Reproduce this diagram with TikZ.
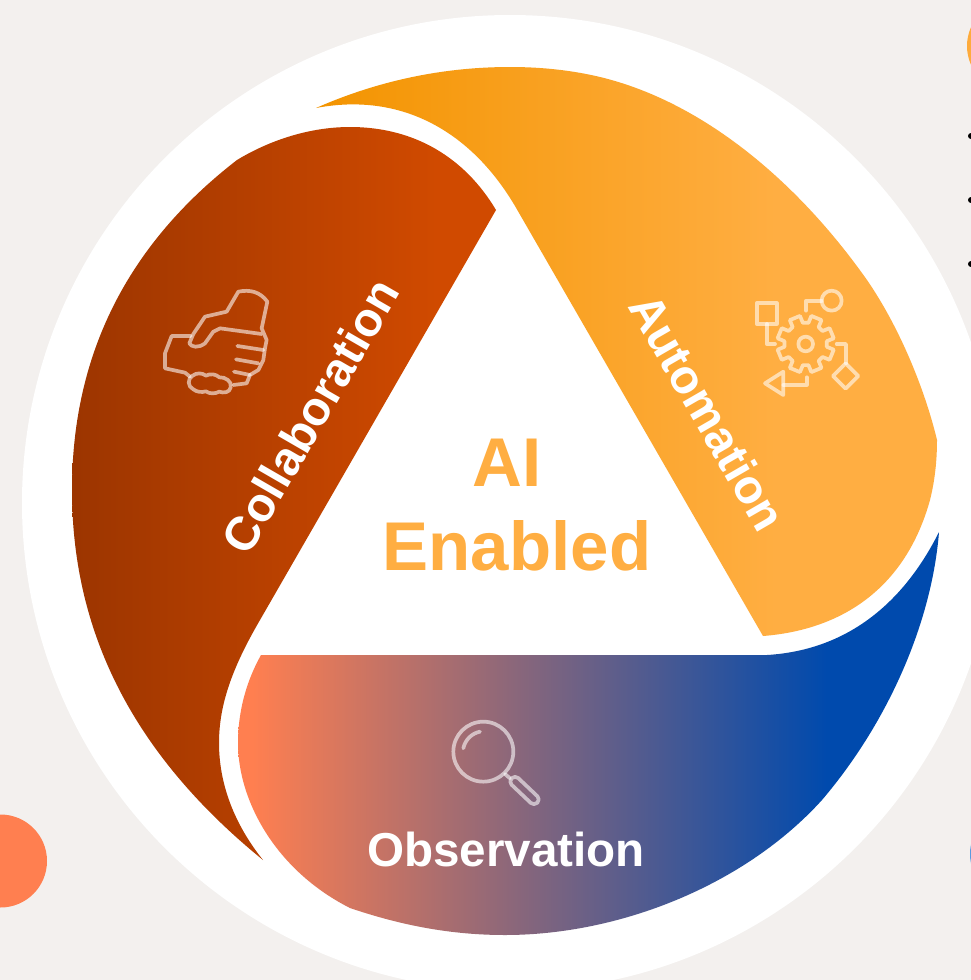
\documentclass[tikz,border=0pt]{standalone}
\usepackage{fontspec}
\setmainfont{Liberation Sans}
\definecolor{mypaper}{HTML}{F3F0EE}
\definecolor{myorange}{HTML}{FFAE42}
\definecolor{myorangedark}{HTML}{F39400}
\definecolor{myrust}{HTML}{D04A00}
\definecolor{myrustdark}{HTML}{9C3500}
\definecolor{mycoral}{HTML}{FF7F50}
\definecolor{myblue}{HTML}{004AAD}
\definecolor{mybluelight}{HTML}{5B9BE0}
\pgfdeclarehorizontalshading{automationshade}{100bp}{color(0bp)=(myorangedark); color(25bp)=(myorangedark); color(62bp)=(myorange); color(100bp)=(myorange)}
\pgfdeclarehorizontalshading{collabshade}{100bp}{color(0bp)=(myrustdark); color(25bp)=(myrustdark); color(68bp)=(myrust); color(100bp)=(myrust)}
\pgfdeclarehorizontalshading{observeshade}{100bp}{color(0bp)=(mycoral); color(26bp)=(mycoral); color(67bp)=(myblue); color(100bp)=(myblue)}
\tikzset{
  iconline/.style = {draw = white, draw opacity = 0.58, line width = 3.7pt, line cap = round, line join = round},
  petallabel/.style = {text = white, font = \bfseries\fontsize{47.6}{48}\selectfont},
  centerlabel/.style = {text = myorange, font = \bfseries\fontsize{69}{69}\selectfont, anchor = base}
}

\begin{document}
\begin{tikzpicture}[x = 1pt, y = -1pt]
\clip (0,0) rectangle (971,980);
\fill [mypaper] (0,0) rectangle (971,980);

% dots around the wheel
\fill [mycoral] (0.5,861) circle (46.5);
\fill [myorange!90!myorangedark] (1013,46) circle (46);
\fill [mybluelight] (1016,854) circle (46);
\foreach \y in {136,200,264}
{
	\fill (971,\y) circle (3);
}

\fill [white] (510,503) circle (488);

% petals
\shade [shading = automationshade, shading angle = 0]
	(316,108) .. controls (375,82) and (440,67) .. (510,67)
	.. controls (545,67) and (575,71) .. (600,77)
	.. controls (700,101) and (795,178) .. (867,280)
	.. controls (900,328) and (925,390) .. (937,440)
	.. controls (937,460) and (935,480) .. (930,500)
	.. controls (905,590) and (840,630) .. (763,636)
	-- (515,206)
	.. controls (470,130) and (400,92) .. (316,108) -- cycle;
\shade [shading = collabshade, shading angle = 0]
	(237,160) .. controls (270,140) and (310,127) .. (350,127)
	.. controls (415,127) and (465,158) .. (496,210)
	-- (260,620)
	.. controls (232,668) and (219,705) .. (219,743)
	.. controls (219,785) and (235,825) .. (263,860)
	.. controls (140,760) and (72,640) .. (72,490)
	.. controls (72,340) and (140,235) .. (237,160) -- cycle;
\shade [shading = observeshade, shading angle = 0]
	(261,655) -- (767,655)
	.. controls (850,650) and (905,600) .. (939,532)
	.. controls (932,620) and (890,720) .. (822,800)
	.. controls (745,885) and (620,935) .. (505,935)
	.. controls (450,935) and (400,925) .. (350,908)
	.. controls (275,870) and (238,800) .. (238,743)
	.. controls (238,710) and (247,680) .. (261,655) -- cycle;

% labels
\node [centerlabel] (aitext) at (507,486) {AI};
\node [centerlabel] (enabledtext) at (517,570) {Enabled};
\node [petallabel, rotate = 60] (collabtext) at (310,416) {Collaboration};
\node [petallabel, rotate = -60] (autotext) at (708,412) {Automation};
\node [petallabel] (observetext) at (506,849) {Observation};

% handshake
\begin{scope}[shift = {(130,260)}, x = 0.3333pt, y = -0.3333pt]
	\draw [iconline] (310,375) -- (350,370) -- (360,345) -- (385,330) -- (400,300) -- (405,265) -- (410,240) -- (395,205) -- (412,125)
		.. controls (390,95) and (360,88) .. (325,95) -- (290,155) -- (225,170) -- (190,222) -- (178,250)
		.. controls (185,262) and (205,265) .. (225,250) -- (250,215) -- (270,205) -- (395,222);
	\draw [iconline] (182,228) -- (125,228) -- (105,280) -- (105,325) -- (165,338) -- (180,350);
	\draw [iconline] (322,258) -- (400,270);
	\draw [iconline] (318,298) -- (385,310);
	\draw [iconline] (312,335) -- (360,345);
	\draw [iconline] (188,347) .. controls (200,338) and (215,338) .. (228,347)
		.. controls (240,340) and (258,342) .. (268,352)
		.. controls (285,350) and (308,365) .. (302,382)
		.. controls (300,398) and (280,400) .. (268,395)
		.. controls (255,402) and (238,402) .. (228,394)
		.. controls (215,398) and (200,396) .. (190,388)
		.. controls (172,380) and (172,355) .. (188,347) -- cycle;
\end{scope}

% gear and flow
\begin{scope}[shift = {(730,270)}, x = 0.3333pt, y = -0.3333pt]
	\begin{scope}[shift = {(227,222)}]
		\draw [iconline] (7.5:64) \foreach \a in {22.5,67.5,...,337.5}
		{
			-- (\a-15:64) -- (\a-11:86) -- (\a+11:86) -- (\a+15:64)
		} -- cycle;
		\draw [iconline] (0,0) circle (22);
	\end{scope}
	\draw [iconline] (80,100) rectangle (140,162);
	\draw [iconline] (110,162) -- (110,222) -- (135,222);
	\draw [iconline] (305,92) circle (30);
	\draw [iconline] (275,92) -- (228,92) -- (228,122);
	\draw [iconline] (320,222) -- (348,222) -- (348,280);
	\draw [iconline] (347,280) -- (385,318) -- (347,356) -- (309,318) -- cycle;
	\draw [iconline] (105,340) -- (160,305) -- (160,375) -- cycle;
	\draw [iconline] (160,345) -- (230,345) -- (230,322);
\end{scope}

% magnifier
\begin{scope}[shift = {(430,700)}, x = 0.3333pt, y = -0.3333pt]
	\draw [iconline] (160,155) circle (90);
	\draw [iconline] (100,145) .. controls (105,120) and (125,100) .. (150,95);
	\draw [iconline] (225,222) -- (240,235);
	\draw [iconline, rounded corners = 4.5pt] (255,225) -- (332,298) -- (312,318) -- (235,245) -- cycle;
\end{scope}
\end{tikzpicture}
\end{document}
